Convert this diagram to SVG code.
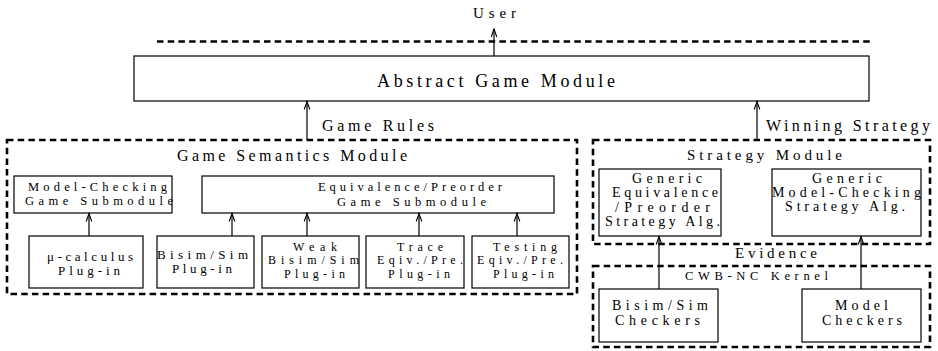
<svg xmlns="http://www.w3.org/2000/svg" width="938" height="351" viewBox="0 0 938 351">
<style>
.box{fill:#fff;stroke:#000;stroke-width:1.2}
.dash{fill:none;stroke:#000;stroke-width:2.6;stroke-dasharray:6.5 4.2}
.arr{fill:none;stroke:#000;stroke-width:1.2;marker-end:url(#ah)}
.s18{font-size:18px}.s16{font-size:16px}.s15{font-size:15px}.s14{font-size:14px}.s13{font-size:13px}.s12{font-size:12.5px}.s3{font-size:12px}
</style>
<defs>
<marker id="ah" viewBox="-10 -5 12 10" refX="0" refY="0" markerWidth="12" markerHeight="10" markerUnits="userSpaceOnUse" orient="auto">
<path d="M-8,-2.8 L0,0 L-8,2.8" fill="none" stroke="#000" stroke-width="1.1"/>
</marker>
</defs>
<rect width="938" height="351" fill="#fff"/>
<g font-family="Liberation Serif" fill="#000">
<g id="user">
<text class="s15" x="473" y="18" textLength="43" lengthAdjust="spacing">User</text>
</g>
<g id="ui-boundary">
<line class="dash" x1="157" y1="41.5" x2="870" y2="41.5"/>
</g>
<g id="abstract-game-module">
<rect class="box" x="134" y="56" width="735" height="45"/>
<text class="s18" x="377" y="87" textLength="238" lengthAdjust="spacing">Abstract Game Module</text>
</g>

<g id="game-semantics-module">
<rect class="dash" x="7" y="140" width="570" height="154"/>
<text class="s16" x="177" y="161" textLength="230" lengthAdjust="spacing">Game Semantics Module</text>
</g>
<g id="mc-game-submodule">
<rect class="box" x="14" y="176" width="158" height="37"/>
<text class="s12" x="28" y="191" textLength="139" lengthAdjust="spacing">Model-Checking</text>
<text class="s12" x="25" y="205" textLength="148" lengthAdjust="spacing">Game Submodule</text>
</g>
<g id="eq-game-submodule">
<rect class="box" x="202" y="176" width="352" height="37"/>
<text class="s12" x="318" y="191" textLength="184" lengthAdjust="spacing">Equivalence/Preorder</text>
<text class="s12" x="337" y="206" textLength="149" lengthAdjust="spacing">Game Submodule</text>
</g>
<g id="mu-calculus-plugin">
<rect class="box" x="29" y="236" width="114" height="52"/>
<text class="s13" x="47" y="261" textLength="86" lengthAdjust="spacing">μ-calculus</text>
<text class="s13" x="58" y="275" textLength="62" lengthAdjust="spacing">Plug-in</text>
</g>
<g id="bisim-plugin">
<rect class="box" x="157" y="236" width="97" height="52"/>
<text class="s13" x="157" y="259" textLength="91" lengthAdjust="spacing">Bisim/Sim</text>
<text class="s13" x="172" y="273" textLength="60" lengthAdjust="spacing">Plug-in</text>
</g>
<g id="weak-bisim-plugin">
<rect class="box" x="262" y="236" width="97" height="52"/>
<text class="s3" x="293" y="250.5" textLength="44" lengthAdjust="spacing">Weak</text>
<text class="s3" x="268" y="264" textLength="91" lengthAdjust="spacing">Bisim/Sim</text>
<text class="s3" x="284" y="277.5" textLength="61" lengthAdjust="spacing">Plug-in</text>
</g>
<g id="trace-plugin">
<rect class="box" x="366" y="236" width="98" height="52"/>
<text class="s3" x="397" y="250.5" textLength="46" lengthAdjust="spacing">Trace</text>
<text class="s3" x="377" y="264" textLength="86" lengthAdjust="spacing">Eqiv./Pre.</text>
<text class="s3" x="388" y="277.5" textLength="62" lengthAdjust="spacing">Plug-in</text>
</g>
<g id="testing-plugin">
<rect class="box" x="472" y="236" width="97" height="52"/>
<text class="s3" x="493" y="250.5" textLength="64" lengthAdjust="spacing">Testing</text>
<text class="s3" x="477" y="264" textLength="86" lengthAdjust="spacing">Eqiv./Pre.</text>
<text class="s3" x="493" y="277.5" textLength="61" lengthAdjust="spacing">Plug-in</text>
</g>

<g id="strategy-module">
<rect class="dash" x="593" y="140" width="337" height="104"/>
<text class="s15" x="687" y="160" textLength="155" lengthAdjust="spacing">Strategy Module</text>
</g>
<g id="generic-eq-strategy">
<rect class="box" x="599" y="169" width="122" height="67"/>
<text class="s14" x="632" y="183" textLength="70" lengthAdjust="spacing">Generic</text>
<text class="s14" x="612" y="197" textLength="106" lengthAdjust="spacing">Equivalence</text>
<text class="s14" x="615" y="211.5" textLength="95" lengthAdjust="spacing">/Preorder</text>
<text class="s14" x="605" y="225.5" textLength="115" lengthAdjust="spacing">Strategy Alg.</text>
</g>
<g id="generic-mc-strategy">
<rect class="box" x="772" y="169" width="149" height="67"/>
<text class="s14" x="812" y="183" textLength="70" lengthAdjust="spacing">Generic</text>
<text class="s14" x="772" y="197" textLength="149" lengthAdjust="spacing">Model-Checking</text>
<text class="s14" x="785" y="211" textLength="120" lengthAdjust="spacing">Strategy Alg.</text>
</g>

<g id="cwb-nc-kernel">
<rect class="dash" x="593" y="266" width="337" height="81"/>
<text class="s12" x="685" y="280" textLength="143" lengthAdjust="spacing">CWB-NC Kernel</text>
</g>
<g id="bisim-checkers">
<rect class="box" x="599" y="289" width="119" height="53"/>
<text class="s14" x="612" y="310" textLength="96" lengthAdjust="spacing">Bisim/Sim</text>
<text class="s14" x="615" y="325" textLength="85" lengthAdjust="spacing">Checkers</text>
</g>
<g id="model-checkers">
<rect class="box" x="802" y="289" width="119" height="53"/>
<text class="s14" x="835" y="310" textLength="53" lengthAdjust="spacing">Model</text>
<text class="s14" x="822" y="325" textLength="80" lengthAdjust="spacing">Checkers</text>
</g>

<g id="connectors">
<line class="arr" x1="494" y1="56" x2="494" y2="29"/>
<line class="arr" x1="307" y1="140" x2="307" y2="101.5"/>
<text class="s16" x="322" y="131" textLength="112" lengthAdjust="spacing">Game Rules</text>
<line class="arr" x1="757" y1="140" x2="757" y2="101.5"/>
<text class="s16" x="766" y="131" textLength="164" lengthAdjust="spacing">Winning Strategy</text>
<line class="arr" x1="89" y1="236" x2="89" y2="213.5"/>
<line class="arr" x1="232" y1="236" x2="232" y2="213.5"/>
<line class="arr" x1="307" y1="236" x2="307" y2="213.5"/>
<line class="arr" x1="419" y1="236" x2="419" y2="213.5"/>
<line class="arr" x1="517" y1="236" x2="517" y2="213.5"/>
<line class="arr" x1="659" y1="289" x2="659" y2="236.5"/>
<line class="arr" x1="861" y1="289" x2="861" y2="236.5"/>
<text class="s15" x="735" y="258" textLength="82" lengthAdjust="spacing">Evidence</text>
</g>
</g>
</svg>
